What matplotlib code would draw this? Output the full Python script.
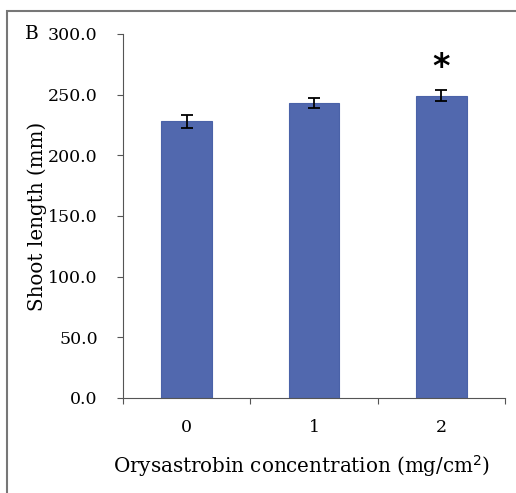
import matplotlib.pyplot as plt
from matplotlib.patches import Rectangle

# data
concs = ['0', '1', '2']
shoot = [228.0, 243.0, 249.0]
err = [5.5, 4.0, 4.5]
sig = ['', '', '*']

plt.rcParams['font.family'] = ['DejaVu Serif']
W, H = 516, 493
fig = plt.figure(figsize=(W/100, H/100), dpi=100)
# axes: left x=123, right x=505, bottom y=398, top y=34
ax = fig.add_axes([123/W, 1-398/H, (505-123)/W, (398-34)/H])

x = range(len(concs))
ax.bar(x, shoot, width=0.4, color='#5168ae', edgecolor='#4a62a8', linewidth=0.8)
ax.errorbar(x, shoot, yerr=err, fmt='none', ecolor='black', elinewidth=1.3,
            capsize=4, capthick=1.3)
for i in x:
    if sig[i]:
        ax.text(i, shoot[i]+err[i]+5, sig[i], ha='center', va='bottom',
                fontsize=24, fontweight='bold', family='DejaVu Sans')

ax.set_xlim(-0.5, 2.5)
ax.set_ylim(0, 300)
ax.set_yticks(range(0, 301, 50))
ax.set_yticklabels(['%.1f' % v for v in range(0, 301, 50)])
ax.set_xticks([-0.5, 0.5, 1.5, 2.5])
ax.set_xticklabels([])
ax.set_xticks(list(x), minor=True)
ax.set_xticklabels(concs, minor=True)
ax.tick_params(axis='x', which='minor', length=0, pad=15, labelsize=12.5)
ax.tick_params(axis='x', which='major', length=4, direction='out', color='#555555')
ax.tick_params(axis='y', length=4.5, direction='out', color='#555555', pad=13.7,
               labelsize=12.5)
for s in ['top', 'right']:
    ax.spines[s].set_visible(False)
for s in ['left', 'bottom']:
    ax.spines[s].set_color('#555555')
ax.set_xlabel('Orysastrobin concentration (mg/cm$^2$)', fontsize=14.3)
ax.xaxis.set_label_coords(0.467, -0.152)
ax.set_ylabel('Shoot length (mm)', fontsize=14.3, labelpad=1)
fig.text(25/W, 1-34/H, 'B', fontsize=13.5, va='center', ha='left')

# frame around the whole panel
fig.patches.append(Rectangle((7/W, -0.1), 1.2, 1-11/H+0.1, transform=fig.transFigure,
                             fill=False, edgecolor='#777777', linewidth=1.5))

fig.savefig('out.png', dpi=100)
